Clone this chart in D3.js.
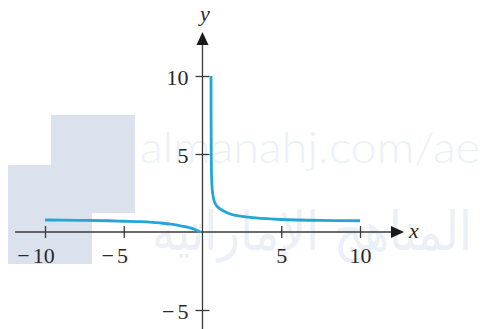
<!DOCTYPE html>
<html>
<head>
<meta charset="utf-8">
<script src="https://cdn.jsdelivr.net/npm/d3@7"></script>
<style>
  html, body { margin: 0; padding: 0; background: #fff; }
  svg { display: block; }
</style>
</head>
<body>
<svg id="chart" width="486" height="329"></svg>
<script>
// Branch left of the asymptote (x < 0)
const xLeft = [-10, -8, -6, -5, -4, -3, -2.5, -2, -1.6, -1.3, -1, -0.79, -0.55, -0.35, -0.2, -0.1];
const yLeft = [0.77, 0.75, 0.72, 0.69, 0.66, 0.6, 0.56, 0.5, 0.44, 0.38, 0.32, 0.27, 0.19, 0.1, 0.03, 0];
// Branch right of the asymptote (x > 0), cut off at y = 10
const xRight = [0.54, 0.555, 0.58, 0.63, 0.7, 0.79, 0.95, 1.14, 1.46, 1.8, 2.29, 3.37, 5, 7.5, 10];
const yRight = [10, 5, 3.4, 2.6, 2.15, 1.86, 1.62, 1.47, 1.28, 1.14, 1.03, 0.9, 0.8, 0.74, 0.72];

const xTicks = [-10, -5, 5, 10];
const yTicks = [-5, 5, 10];

const svg = d3.select("#chart");
const W = 486, H = 329;

const x = d3.scaleLinear().domain([-10, 10]).range([45, 360]);
const y = d3.scaleLinear().domain([-5, 10]).range([310, 76]);

const x0 = x(0), y0 = y(0);
const axisColor = "#3a3a3a";
const serif = "'Liberation Serif', 'Times New Roman', serif";

// Site watermark sitting behind the plot
const wm = svg.append("g").attr("class", "watermark");
wm.append("path")
  .attr("d", "M51,115 H135 V213 H92 V264 H8 V165 H51 Z")
  .attr("fill", "#dbe2ee");
wm.append("text")
  .attr("x", 140).attr("y", 163)
  .attr("font-family", "Lato, 'Open Sans', sans-serif")
  .attr("font-weight", 300)
  .attr("font-size", 44)
  .attr("textLength", 340)
  .attr("lengthAdjust", "spacingAndGlyphs")
  .attr("fill", "#edf1f7")
  .text("almanahj.com/ae");
wm.append("text")
  .attr("x", 312).attr("y", 250)
  .attr("text-anchor", "middle")
  .attr("font-family", "'DejaVu Sans', sans-serif")
  .attr("font-size", 54)
  .attr("textLength", 320)
  .attr("lengthAdjust", "spacingAndGlyphs")
  .attr("fill", "#ebeff6")
  .text("المناهج الإماراتية");

// Axes lines with arrowheads
const axes = svg.append("g");
axes.append("line")
  .attr("x1", 15).attr("x2", 392).attr("y1", y0).attr("y2", y0)
  .attr("stroke", axisColor).attr("stroke-width", 1.3);
axes.append("path")
  .attr("d", `M404,${y0} L391,${y0 - 6} L391,${y0 + 6} Z`)
  .attr("fill", "#1a1a1a");
axes.append("line")
  .attr("x1", x0).attr("x2", x0).attr("y1", H).attr("y2", 45)
  .attr("stroke", axisColor).attr("stroke-width", 1.3);
axes.append("path")
  .attr("d", `M${x0},32 L${x0 - 6},45 L${x0 + 6},45 Z`)
  .attr("fill", "#1a1a1a");

// x ticks (crossing the axis) and labels
const gx = svg.append("g")
  .attr("transform", `translate(0,${y0})`)
  .call(d3.axisBottom(x).tickValues(xTicks).tickSize(6).tickFormat(""));
gx.select(".domain").remove();
gx.selectAll(".tick line").attr("y1", -6).attr("y2", 6)
  .attr("stroke", axisColor).attr("stroke-width", 1.3);

function addLabel(g, v, anchor) {
  const t = g.append("text")
    .attr("font-family", serif)
    .attr("font-size", 22)
    .attr("fill", "#2a2a2a")
    .attr("text-anchor", anchor);
  if (v < 0) {
    t.append("tspan").text("−");
    t.append("tspan").attr("dx", 3).text(String(Math.abs(v)));
  } else {
    t.text(String(v));
  }
  return t;
}

gx.selectAll(".tick").each(function(d) {
  const t = addLabel(d3.select(this), d, "middle").attr("y", 31);
  if (d < 0) t.attr("x", -9.5);
});

// y ticks and labels
const gy = svg.append("g")
  .attr("transform", `translate(${x0},0)`)
  .call(d3.axisLeft(y).tickValues(yTicks).tickSize(6).tickFormat(""));
gy.select(".domain").remove();
gy.selectAll(".tick line").attr("x1", -7).attr("x2", 7)
  .attr("stroke", axisColor).attr("stroke-width", 1.3);
gy.selectAll(".tick").each(function(d) {
  addLabel(d3.select(this), d, "end").attr("x", -14).attr("y", 8);
});

// Axis names
svg.append("text")
  .attr("x", 205).attr("y", 21)
  .attr("text-anchor", "middle")
  .attr("font-family", serif).attr("font-style", "italic")
  .attr("font-size", 22).attr("fill", "#2a2a2a")
  .text("y");
svg.append("text")
  .attr("x", 409).attr("y", 238)
  .attr("font-family", serif).attr("font-style", "italic")
  .attr("font-size", 22).attr("fill", "#2a2a2a")
  .text("x");

// Curve branches
const line = d3.line()
  .x(d => x(d[0]))
  .y(d => y(d[1]))
  .curve(d3.curveCatmullRom.alpha(0.5));

const branches = [
  d3.zip(xLeft, yLeft),
  d3.zip(xRight, yRight)
];
svg.append("g").selectAll("path")
  .data(branches)
  .join("path")
  .attr("d", line)
  .attr("fill", "none")
  .attr("stroke", "#22a6d9")
  .attr("stroke-width", 2.8)
  .attr("stroke-linecap", "butt");
</script>
</body>
</html>
